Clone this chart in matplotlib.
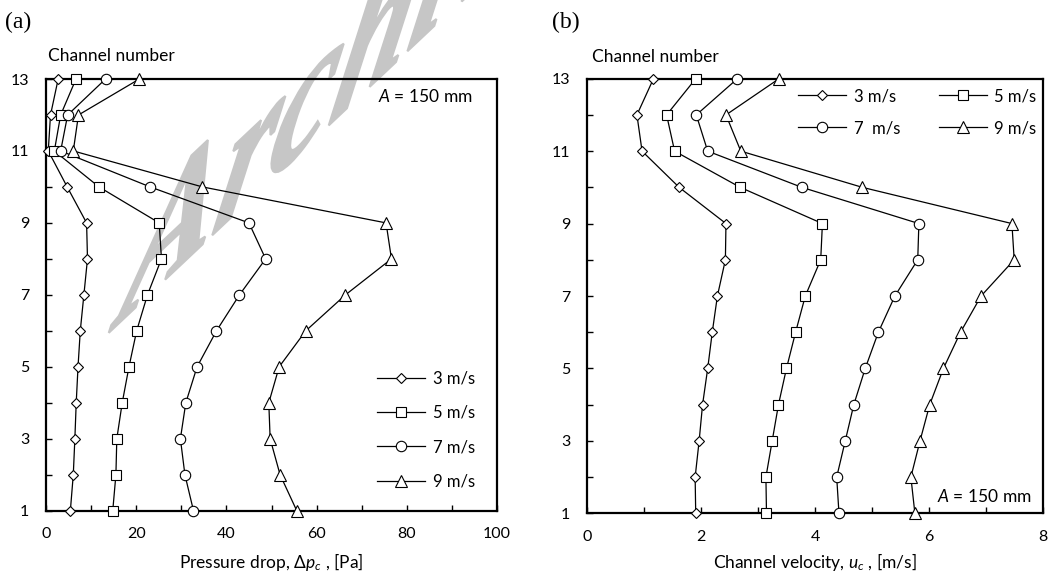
import numpy as np
import matplotlib
matplotlib.use('Agg')
import matplotlib.pyplot as plt
from matplotlib.ticker import MultipleLocator
from matplotlib.textpath import TextPath
from matplotlib.font_manager import FontProperties
from matplotlib.patches import PathPatch
from matplotlib.transforms import Affine2D

channels = list(range(1, 14))
speed_labels_a = ['3 m/s', '5 m/s', '7 m/s', '9 m/s']
speed_labels_b = ['3 m/s', '5 m/s', '7  m/s', '9 m/s']

# Pressure drop [Pa], channel 1..13
dp_3 = [5.4, 6.05, 6.4, 6.7, 7.1, 7.6, 8.4, 9.2, 9.0, 4.7, 0.5, 1.0, 2.7]
dp_5 = [14.8, 15.5, 15.7, 16.9, 18.4, 20.1, 22.5, 25.6, 25.1, 11.75, 1.85, 3.25, 6.65]
dp_7 = [32.7, 30.8, 29.8, 31.0, 33.5, 37.8, 42.9, 48.7, 45.0, 23.1, 3.25, 4.8, 13.2]
dp_9 = [55.6, 51.9, 49.7, 49.4, 51.7, 57.6, 66.4, 76.6, 75.4, 34.7, 6.05, 7.2, 20.7]

# Channel velocity [m/s], channel 1..13
uc_3 = [1.91, 1.90, 1.97, 2.03, 2.12, 2.20, 2.29, 2.43, 2.44, 1.62, 0.97, 0.88, 1.17]
uc_5 = [3.15, 3.14, 3.25, 3.36, 3.50, 3.66, 3.83, 4.10, 4.13, 2.69, 1.54, 1.40, 1.91]
uc_7 = [4.42, 4.38, 4.53, 4.68, 4.88, 5.11, 5.40, 5.80, 5.82, 3.77, 2.12, 1.92, 2.64]
uc_9 = [5.75, 5.68, 5.84, 6.01, 6.25, 6.55, 6.91, 7.49, 7.45, 4.83, 2.70, 2.44, 3.37]

SANS = 'Lato'
SERIF = 'Liberation Serif'
plt.rcParams['font.family'] = [SANS, 'DejaVu Sans']
plt.rcParams['mathtext.fontset'] = 'custom'
plt.rcParams['mathtext.rm'] = SANS
plt.rcParams['mathtext.it'] = SANS + ':italic'

W, H = 1064, 575
fig = plt.figure(figsize=(W / 100, H / 100), dpi=100)


def px_rect(l, t, r, b):
    return [l / W, 1 - b / H, (r - l) / W, (b - t) / H]


ax_a = fig.add_axes(px_rect(46, 79, 497, 510.7))
ax_b = fig.add_axes(px_rect(586.7, 78.7, 1043.3, 513.3))

styles = [
    dict(marker='D', markersize=5.5),
    dict(marker='s', markersize=7.5),
    dict(marker='o', markersize=7.5),
    dict(marker='^', markersize=8.5),
]


def draw(ax, series, labels):
    for vals, lab, st in zip(series, labels, styles):
        ax.plot(vals, channels, color='black', lw=0.9, markerfacecolor='white',
                markeredgecolor='black', markeredgewidth=0.8, label=lab,
                clip_on=False, zorder=3, **st)
    ax.set_ylim(1, 13)
    ax.set_yticks(channels)
    ax.set_yticklabels([str(c) if c % 2 else '' for c in channels])
    ax.tick_params(direction='in', length=4, width=1.0, pad=12, labelsize=11.5,
                   top=False, right=False)
    ax.tick_params(which='minor', direction='in', length=4, width=1.0)
    for s in ax.spines.values():
        s.set_linewidth(1.6)
    ax.set_facecolor('none')


draw(ax_a, [dp_3, dp_5, dp_7, dp_9], speed_labels_a)
ax_a.set_xlim(0, 100)
ax_a.xaxis.set_major_locator(MultipleLocator(20))
ax_a.xaxis.set_minor_locator(MultipleLocator(10))

draw(ax_b, [uc_3, uc_5, uc_7, uc_9], speed_labels_b)
ax_b.set_xlim(0, 8)
ax_b.xaxis.set_major_locator(MultipleLocator(2))
ax_b.xaxis.set_minor_locator(MultipleLocator(1))

ax_a.legend(loc='upper left', bbox_to_anchor=(0.734, 0.325), frameon=False,
            borderpad=0, borderaxespad=0, handlelength=2.9, handletextpad=0.45,
            labelspacing=1.1, numpoints=1, fontsize=12)
hb, lb = ax_b.get_legend_handles_labels()
order = [0, 2, 1, 3]
ax_b.legend([hb[i] for i in order], [lb[i] for i in order],
            loc='upper left', bbox_to_anchor=(0.463, 0.978), frameon=False,
            borderpad=0, borderaxespad=0, handlelength=2.9, handletextpad=0.45,
            labelspacing=0.95, columnspacing=2.3, numpoints=1, ncol=2, fontsize=12)

# texts
fig.text(5 / W, 1 - 22 / H, '(a)', family=SERIF, fontsize=17, va='center', ha='left')
fig.text(552 / W, 1 - 22 / H, '(b)', family=SERIF, fontsize=17, va='center', ha='left')
fig.text(47.5 / W, 1 - 56 / H, 'Channel number', fontsize=12.5, va='center', ha='left')
fig.text(592 / W, 1 - 57 / H, 'Channel number', fontsize=12.5, va='center', ha='left')
fig.text(378 / W, 1 - 97 / H, r'$A$ = 150 mm', fontsize=12.5, va='center', ha='left')
fig.text(937 / W, 1 - 496 / H, r'$A$ = 150 mm', fontsize=12.5, va='center', ha='left')
fig.text(271.7 / W, 1 - 562 / H, r'Pressure drop, $\Delta p_c$ , [Pa]', fontsize=12.5,
         va='center', ha='center')
fig.text(815 / W, 1 - 562 / H, r'Channel velocity, $u_c$ , [m/s]', fontsize=12.5,
         va='center', ha='center')

# watermark (affine-distorted, light grey, behind the data)
wm_fp = FontProperties(family=SERIF, weight='bold', style='italic')
wm_path = TextPath((0, 0), 'Archive', size=100, prop=wm_fp)
wm_tr = Affine2D(np.array([[1.40, 0.44, 116.0],
                           [1.32, 1.92, H - 326.0],
                           [0.0, 0.0, 1.0]]))
wm = PathPatch(wm_path, facecolor='#c6c6c6', edgecolor='#c6c6c6', linewidth=1.5,
               zorder=-1)
fig.add_artist(wm)
wm.set_transform(wm_tr)

fig.savefig('out.png', dpi=100)
